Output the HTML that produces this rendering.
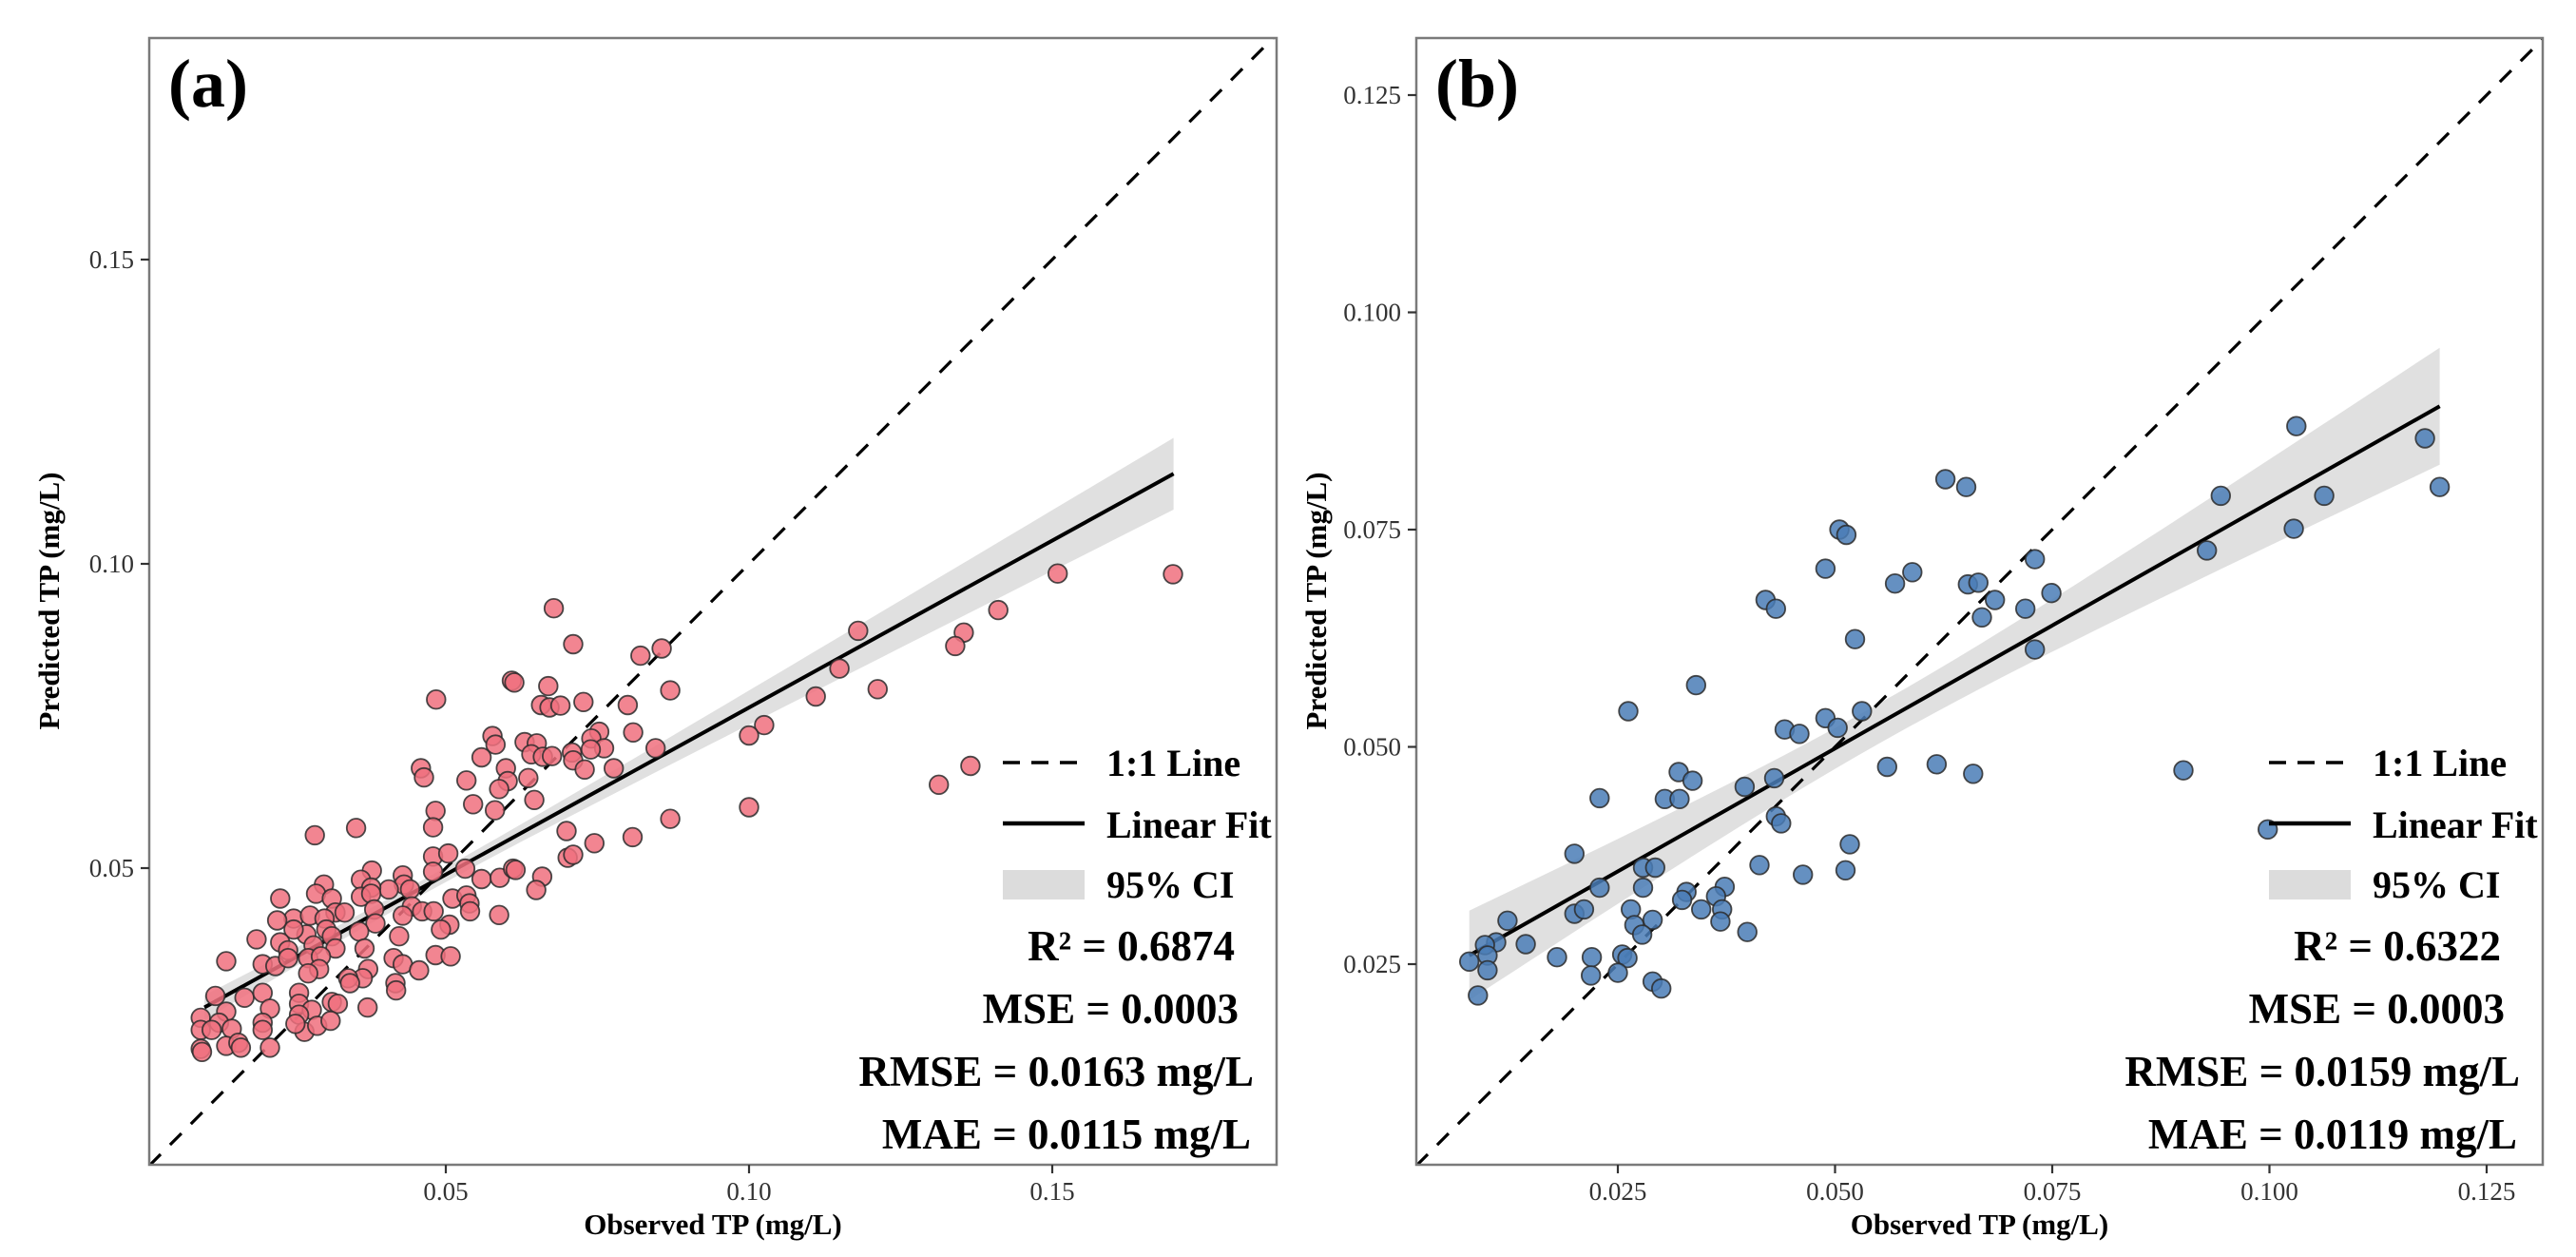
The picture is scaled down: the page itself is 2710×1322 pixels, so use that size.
<!DOCTYPE html>
<html><head><meta charset="utf-8">
<style>
html,body{margin:0;padding:0;background:#fff;}
svg{display:block;font-family:"Liberation Serif","Times New Roman",serif;}
svg text{font-family:"Liberation Serif","Times New Roman",serif;}
</style></head>
<body>
<svg id="fig" xmlns="http://www.w3.org/2000/svg" width="2710" height="1322" viewBox="0 0 2710 1322" font-family="Liberation Serif, serif"></svg>
<script>
// ---------- Panel (a) data ----------
const obsA = [.0678,.0710,.0821,.0856,.0609,.0613,.0484,.0669,.0870,.0657,.0671,.0689,.0727,.0800,.0577,.0582,.0630,.0650,.0753,.0740,.0809,.0846,.0559,.0641,.0660,.0675,.0708,.0710,.0761,.0739,.0459,.0464,.0534,.0599,.0602,.0636,.0588,.0777,.0729,.0545,.0581,.0646,.0483,.0479,.0284,.0352,.0870,.0699,.0745,.0808,.0701,.0710,.0479,.0504,.0479,.0532,.0559,.0589,.0611,.0615,.0659,.0649,.0378,.0360,.0429,.0431,.0406,.0377,.0299,.0286,.0312,.0227,.0360,.0377,.0441,.0511,.0534,.0539,.0540,.0588,.0444,.0461,.0480,.0382,.0318,.0333,.0249,.0276,.0222,.0300,.0384,.0429,.0506,.0492,.0357,.0303,.0312,.0270,.0249,.0188,.0227,.0423,.0366,.0318,.0282,.0240,.0138,.0198,.0219,.0240,.0273,.0294,.0291,.0273,.0414,.0429,.0483,.0508,.0456,.0372,.0363,.0339,.0342,.0417,.0418,.0120,.0168,.0198,.0210,.0258,.0258,.0279,.0258,.0312,.0322,.0371,.0096,.0138,.0126,.0147,.0096,.0198,.0198,.0267,.0288,.0310,.0138,.0158,.0162,.0210,.0096,.0098,.0114,.0252,.1509,.1699,.1411,.1354,.1340,.1180,.1149,.1212,.1110,.1025,.1000,.1365,.1313,.1000];
const predA = [.0927,.0868,.0849,.0861,.0808,.0805,.0777,.0799,.0792,.0768,.0764,.0767,.0773,.0768,.0717,.0703,.0707,.0705,.0724,.0713,.0723,.0697,.0682,.0687,.0683,.0684,.0690,.0677,.0697,.0695,.0664,.0649,.0644,.0664,.0643,.0648,.0630,.0664,.0662,.0605,.0595,.0612,.0594,.0567,.0554,.0566,.0581,.0561,.0541,.0551,.0517,.0522,.0519,.0524,.0494,.0499,.0482,.0484,.0499,.0497,.0486,.0464,.0496,.0481,.0488,.0473,.0465,.0468,.0473,.0458,.0450,.0450,.0453,.0458,.0465,.0450,.0455,.0442,.0429,.0423,.0437,.0429,.0429,.0432,.0427,.0427,.0417,.0422,.0414,.0417,.0409,.0422,.0407,.0399,.0396,.0399,.0388,.0391,.0399,.0383,.0378,.0388,.0368,.0368,.0373,.0365,.0347,.0342,.0339,.0352,.0352,.0355,.0334,.0327,.0352,.0342,.0357,.0355,.0332,.0334,.0319,.0319,.0311,.0311,.0299,.0290,.0287,.0295,.0269,.0295,.0277,.0267,.0259,.0280,.0277,.0271,.0254,.0264,.0246,.0236,.0234,.0246,.0234,.0231,.0241,.0249,.0208,.0213,.0205,.0205,.0203,.0198,.0234,.0244,.0984,.0983,.0924,.0887,.0865,.0890,.0828,.0794,.0782,.0735,.0718,.0668,.0637,.0600];
const fitA = [0.0102, 0.0271, 0.1700, 0.1148];
const ciA = [0.045, 0.0012, 0.002136];
const xTicksA = [0.05, 0.10, 0.15];
const xTickLabelsA = ["0.05","0.10","0.15"];
const yTicksA = [0.05, 0.10, 0.15];
const yTickLabelsA = ["0.05","0.10","0.15"];
const statsA = ["R² = 0.6874","MSE = 0.0003","RMSE = 0.0163 mg/L","MAE = 0.0115 mg/L"];

// ---------- Panel (b) data ----------
const obsB = [.1031,.1179,.1196,.0944,.1063,.1028,.0928,.0749,.0901,.0998,.0627,.0651,.0505,.0513,.0489,.0569,.0589,.0730,.0653,.0665,.0684,.0669,.0719,.0730,.0420,.0432,.0523,.0340,.0262,.0531,.0489,.0503,.0442,.0459,.0560,.0617,.0659,.0320,.0336,.0396,.0430,.0229,.0304,.0321,.0432,.0438,.0517,.0200,.0279,.0293,.0413,.0512,.0463,.0229,.0279,.0329,.0373,.0363,.0200,.0211,.0265,.0324,.0346,.0370,.0123,.0290,.0269,.0368,.0278,.0399,.0110,.0097,.0144,.0100,.0180,.0220,.0255,.0261,.0079,.0100,.0219,.0250,.0290,.0300,.0089];
const predB = [.0869,.0855,.0799,.0789,.0789,.0751,.0726,.0677,.0473,.0405,.0808,.0799,.0750,.0744,.0705,.0688,.0701,.0716,.0687,.0689,.0669,.0649,.0659,.0612,.0669,.0659,.0624,.0571,.0541,.0541,.0533,.0522,.0520,.0515,.0477,.0480,.0469,.0471,.0461,.0454,.0464,.0441,.0440,.0440,.0420,.0412,.0388,.0377,.0361,.0361,.0364,.0358,.0353,.0338,.0338,.0333,.0339,.0328,.0308,.0313,.0313,.0324,.0313,.0313,.0300,.0301,.0295,.0299,.0284,.0287,.0275,.0272,.0273,.0260,.0258,.0258,.0261,.0257,.0253,.0243,.0237,.0240,.0230,.0222,.0214];
const fitB = [0.0079, 0.0260, 0.1196, 0.0892];
const ciB = [0.055, 0.0023, 0.0096];
const xTicksB = [0.025, 0.050, 0.075, 0.100, 0.125];
const xTickLabelsB = ["0.025","0.050","0.075","0.100","0.125"];
const yTicksB = [0.025, 0.050, 0.075, 0.100, 0.125];
const yTickLabelsB = ["0.025","0.050","0.075","0.100","0.125"];
const statsB = ["R² = 0.6322","MSE = 0.0003","RMSE = 0.0159 mg/L","MAE = 0.0119 mg/L"];

const NS = "http://www.w3.org/2000/svg";
const svg = document.getElementById('fig');
const FF = '"Liberation Serif", "Times New Roman", serif';
function mk(tag, attrs, parent, text){
  const e = document.createElementNS(NS, tag);
  for (const k in attrs) e.setAttribute(k, attrs[k]);
  if (tag === 'text') e.style.fontFamily = FF;
  if (text !== undefined) e.textContent = text;
  (parent || svg).appendChild(e);
  return e;
}

function panel(cfg){
  const g = mk('g', {});
  
  
  const L = cfg.left, R = cfg.right, T = 40, B = 1225;
  const sx = v => cfg.x0 + v * cfg.kx;
  const sy = v => cfg.y0 - v * cfg.ky;
  const xmin = (L - cfg.x0) / cfg.kx, xmax = (R - cfg.x0) / cfg.kx;
  const ymin = (cfg.y0 - B) / cfg.ky, ymax = (cfg.y0 - T) / cfg.ky;

  const clipId = 'clip-' + cfg.id;
  const cp = mk('clipPath', {id: clipId}, g);
  mk('rect', {x: L, y: T, width: R - L, height: B - T}, cp);
  const plot = mk('g', {'clip-path': 'url(#' + clipId + ')'}, g);

  const f = cfg.fit, ci = cfg.ci;
  const slope = (f[3] - f[1]) / (f[2] - f[0]);
  const yfit = x => f[1] + slope * (x - f[0]);
  const hw = x => Math.sqrt(ci[1] * ci[1] + ci[2] * (x - ci[0]) * (x - ci[0]));
  const N = 40; let up = [], dn = [];
  for (let i = 0; i <= N; i++) {
    const x = f[0] + (f[2] - f[0]) * i / N;
    up.push(sx(x).toFixed(1) + ',' + sy(yfit(x) + hw(x)).toFixed(1));
    dn.unshift(sx(x).toFixed(1) + ',' + sy(yfit(x) - hw(x)).toFixed(1));
  }
  const band = mk('polygon', {points: up.concat(dn).join(' '), fill: '#d6d6d6', 'fill-opacity': '0.75'}, plot);
  
  

  const lo = Math.min(xmin, ymin), hi = Math.max(xmax, ymax);
  const one = mk('line', {x1: sx(lo), y1: sy(lo), x2: sx(hi), y2: sy(hi), stroke: '#000', 'stroke-width': 3.2, 'stroke-dasharray': '17 14'}, plot);
  
  

  const fl = mk('line', {x1: sx(f[0]), y1: sy(f[1]), x2: sx(f[2]), y2: sy(f[3]), stroke: '#000', 'stroke-width': 4}, plot);
  
  

  for (let i = 0; i < cfg.obs.length; i++) {
    const c = mk('circle', {cx: sx(cfg.obs[i]).toFixed(1), cy: sy(cfg.pred[i]).toFixed(1), r: 9.8, fill: cfg.color, 'fill-opacity': '0.85', stroke: '#2b2b2b', 'stroke-width': 1.8, 'stroke-opacity': '0.85'}, plot);
    
    
  }

  const fr = mk('rect', {x: L, y: T, width: R - L, height: B - T, fill: 'none', stroke: '#7a7a7a', 'stroke-width': 2.5}, g);
  
  

  cfg.xt.forEach((v, i) => {
    const X = sx(v);
    mk('line', {x1: X, y1: B, x2: X, y2: B + 9, stroke: '#333', 'stroke-width': 2.2}, g);
    const t = mk('text', {x: X, y: 1262, 'text-anchor': 'middle', 'font-size': 27, fill: '#333'}, g, cfg.xtl[i]);
    
    
  });
  cfg.yt.forEach((v, i) => {
    const Y = sy(v);
    mk('line', {x1: L - 9, y1: Y, x2: L, y2: Y, stroke: '#333', 'stroke-width': 2.2}, g);
    const t = mk('text', {x: L - 16, y: Y + 9, 'text-anchor': 'end', 'font-size': 27, fill: '#333'}, g, cfg.ytl[i]);
    
    
  });

  const xt = mk('text', {x: (L + R) / 2, y: 1298, 'text-anchor': 'middle', 'font-size': 31, 'font-weight': 'bold'}, g, 'Observed TP (mg/L)');
  
  
  const yx = L - 95;
  const yt = mk('text', {x: yx, y: 632, 'text-anchor': 'middle', 'font-size': 31, 'font-weight': 'bold', transform: 'rotate(-90 ' + yx + ' 632)'}, g, 'Predicted TP (mg/L)');
  
  

  const pl = mk('text', {x: L + 20, y: 112, 'font-size': 72, 'font-weight': 'bold'}, g, cfg.label);
  
  

  const lg = mk('g', {}, g);
  
  
  const lx0 = R - 288, lx1 = R - 202, tx = R - 179;
  mk('line', {x1: lx0, y1: 802, x2: lx1 - 6, y2: 802, stroke: '#000', 'stroke-width': 3.5, 'stroke-dasharray': '18 12'}, lg);
  const e1 = mk('text', {x: tx, y: 816, 'font-size': 40, 'font-weight': 'bold'}, lg, '1:1 Line');
  
  
  mk('line', {x1: lx0, y1: 866, x2: lx1, y2: 866, stroke: '#000', 'stroke-width': 4.5}, lg);
  const e2 = mk('text', {x: tx, y: 881, 'font-size': 40, 'font-weight': 'bold'}, lg, 'Linear Fit');
  
  
  mk('rect', {x: lx0, y: 915, width: lx1 - lx0, height: 31, fill: '#dcdcdc'}, lg);
  const e3 = mk('text', {x: tx, y: 944, 'font-size': 40, 'font-weight': 'bold'}, lg, '95% CI');
  
  

  const ys = [1010, 1076, 1142, 1208], xs = [R - 44, R - 40, R - 24, R - 27];
  const names = ['r-squared-label', 'mse-label', 'rmse-label', 'mae-label'];
  cfg.stats.forEach((s, i) => {
    const t = mk('text', {x: xs[i], y: ys[i], 'text-anchor': 'end', 'font-size': 45, 'font-weight': 'bold'}, g, s);
    
    
  });
}

panel({id: 'a', label: '(a)', left: 157, right: 1343, x0: 150, kx: 6380, y0: 1233, ky: 6400,
  obs: obsA, pred: predA, fit: fitA, ci: ciA, color: '#F0707E',
  xt: xTicksA, xtl: xTickLabelsA, yt: yTicksA, ytl: yTickLabelsA, stats: statsA});
panel({id: 'b', label: '(b)', left: 1490, right: 2675, x0: 1473.5, kx: 9140, y0: 1242.5, ky: 9140,
  obs: obsB, pred: predB, fit: fitB, ci: ciB, color: '#4A7CB6',
  xt: xTicksB, xtl: xTickLabelsB, yt: yTicksB, ytl: yTickLabelsB, stats: statsB});
</script>
</body></html>
